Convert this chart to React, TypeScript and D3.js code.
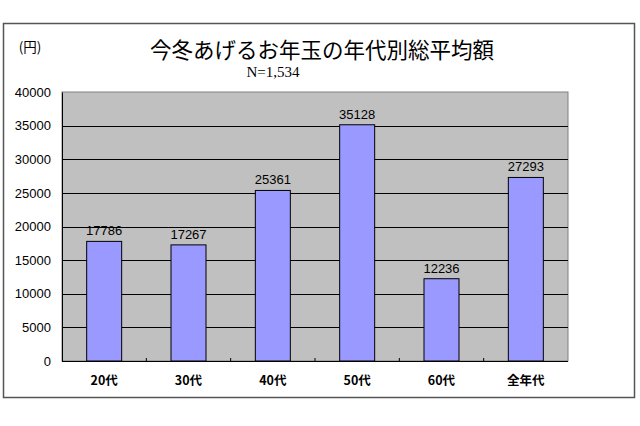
import { useEffect, useRef } from "react"
import * as d3 from "d3"

const categories = ["20代", "30代", "40代", "50代", "60代", "全年代"]
const values = [17786, 17267, 25361, 35128, 12236, 27293]
const yTicks = [0, 5000, 10000, 15000, 20000, 25000, 30000, 35000, 40000]

const title = "今冬あげるお年玉の年代別総平均額"
const subtitle = "N=1,534"
const unitLabel = "(円)"

const W = 640
const H = 426

export default function App() {
  const svgRef = useRef<SVGSVGElement>(null)

  useEffect(() => {
    if (!svgRef.current) return
    const svg = d3.select(svgRef.current)
    svg.selectAll("*").remove()

    const plot = { left: 62, right: 568, top: 92, bottom: 361 }
    const jp = "'Noto Sans CJK JP', 'Noto Sans', sans-serif"
    const num = "'Liberation Sans', Arial, sans-serif"

    // Outer frame
    svg
      .append("rect")
      .attr("x", 3.5)
      .attr("y", 23.5)
      .attr("width", 631)
      .attr("height", 374)
      .attr("fill", "#fff")
      .attr("stroke", "#555")
      .attr("stroke-width", 1.5)

    const x = d3.scaleBand().domain(categories).range([plot.left, plot.right]).paddingInner(0.585).paddingOuter(0.2925)
    const y = d3.scaleLinear().domain([0, 40000]).range([plot.bottom, plot.top])

    // Plot background
    svg
      .append("rect")
      .attr("x", plot.left)
      .attr("y", plot.top)
      .attr("width", plot.right - plot.left)
      .attr("height", plot.bottom - plot.top)
      .attr("fill", "#c0c0c0")
      .attr("stroke", "#808080")
      .attr("stroke-width", 1)

    // Grid lines
    svg
      .append("g")
      .selectAll("line")
      .data(yTicks.filter((d) => d > 0 && d < 40000))
      .enter()
      .append("line")
      .attr("x1", plot.left)
      .attr("x2", plot.right)
      .attr("y1", (d) => Math.round(y(d)) + 0.5)
      .attr("y2", (d) => Math.round(y(d)) + 0.5)
      .attr("stroke", "#000")
      .attr("stroke-width", 1)

    // Bars
    svg
      .append("g")
      .selectAll("rect")
      .data(values)
      .enter()
      .append("rect")
      .attr("x", (_, i) => x(categories[i])!)
      .attr("y", (d) => y(d))
      .attr("width", x.bandwidth())
      .attr("height", (d) => plot.bottom - y(d))
      .attr("fill", "#9999ff")
      .attr("stroke", "#000")
      .attr("stroke-width", 1)

    // Value labels
    svg
      .append("g")
      .selectAll("text")
      .data(values)
      .enter()
      .append("text")
      .attr("x", (_, i) => x(categories[i])! + x.bandwidth() / 2)
      .attr("y", (d) => y(d) - 6)
      .attr("text-anchor", "middle")
      .attr("font-family", num)
      .attr("font-size", 13)
      .attr("fill", "#000")
      .text((d) => d)

    // Y axis
    const yAxis = d3
      .axisLeft(y)
      .tickValues(yTicks)
      .tickSize(0)
      .tickPadding(11)
      .tickFormat((d) => String(d))
    const yg = svg.append("g").attr("transform", `translate(${plot.left},0)`).call(yAxis)
    yg.select(".domain").attr("stroke", "#000")
    yg.selectAll("text").attr("font-family", num).attr("font-size", 13).attr("fill", "#000")

    // X axis line with ticks at category boundaries
    const step = (plot.right - plot.left) / categories.length
    svg
      .append("line")
      .attr("x1", plot.left)
      .attr("x2", plot.right)
      .attr("y1", plot.bottom + 0.5)
      .attr("y2", plot.bottom + 0.5)
      .attr("stroke", "#000")
      .attr("stroke-width", 1.2)
    svg
      .append("g")
      .selectAll("line")
      .data(d3.range(1, categories.length))
      .enter()
      .append("line")
      .attr("x1", (i) => plot.left + i * step)
      .attr("x2", (i) => plot.left + i * step)
      .attr("y1", plot.bottom - 3)
      .attr("y2", plot.bottom)
      .attr("stroke", "#000")

    // X labels
    svg
      .append("g")
      .selectAll("text")
      .data(categories)
      .enter()
      .append("text")
      .attr("x", (d) => x(d)! + x.bandwidth() / 2)
      .attr("y", 385)
      .attr("text-anchor", "middle")
      .attr("font-family", jp)
      .attr("font-size", 12.5)
      .attr("font-weight", "bold")
      .attr("fill", "#000")
      .text((d) => d)

    // Title, subtitle, unit
    svg
      .append("text")
      .attr("x", 322)
      .attr("y", 58)
      .attr("text-anchor", "middle")
      .attr("font-family", jp)
      .attr("font-size", 21.5)
      .attr("fill", "#000")
      .text(title)
    svg
      .append("text")
      .attr("x", 273)
      .attr("y", 77)
      .attr("text-anchor", "middle")
      .attr("font-family", "'Liberation Serif', serif")
      .attr("font-size", 15)
      .attr("fill", "#000")
      .text(subtitle)
    svg
      .append("text")
      .attr("x", 30)
      .attr("y", 52)
      .attr("text-anchor", "middle")
      .attr("font-family", jp)
      .attr("font-size", 13.5)
      .attr("fill", "#000")
      .text(unitLabel)
  }, [])

  return (
    <div style={{ position: "absolute", left: 0, top: 0 }}>
      <svg ref={svgRef} width={W} height={H} style={{ display: "block", background: "#fff" }} />
    </div>
  )
}
